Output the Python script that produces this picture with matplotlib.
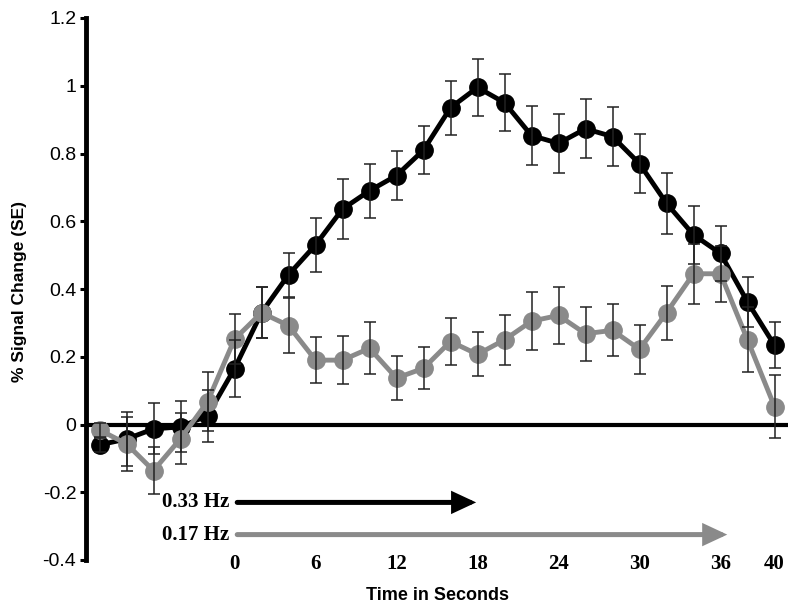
import numpy as np
import matplotlib
matplotlib.use("Agg")
import matplotlib.pyplot as plt

# ---- data ----
time_s = np.arange(-10, 41, 2)
hz033 = [-0.06, -0.043, -0.013, -0.007, 0.026, 0.165, 0.33, 0.442, 0.53, 0.636,
         0.69, 0.735, 0.81, 0.935, 0.995, 0.95, 0.853, 0.83, 0.873, 0.85,
         0.77, 0.653, 0.56, 0.505, 0.362, 0.234]
hz033_se = [0.02, 0.08, 0.075, 0.075, 0.077, 0.085, 0.075, 0.065, 0.08, 0.088,
            0.08, 0.072, 0.07, 0.08, 0.085, 0.085, 0.087, 0.087, 0.087, 0.087,
            0.087, 0.09, 0.085, 0.08, 0.073, 0.068]
hz017 = [-0.016, -0.057, -0.136, -0.042, 0.067, 0.252, 0.33, 0.292, 0.19, 0.19,
         0.225, 0.137, 0.166, 0.245, 0.207, 0.25, 0.305, 0.322, 0.268, 0.278,
         0.222, 0.33, 0.445, 0.445, 0.25, 0.053]
hz017_se = [0.02, 0.08, 0.07, 0.075, 0.087, 0.074, 0.075, 0.08, 0.068, 0.07,
            0.077, 0.064, 0.062, 0.068, 0.065, 0.073, 0.085, 0.085, 0.08, 0.077,
            0.073, 0.08, 0.088, 0.083, 0.096, 0.093]
xtick_vals = [0, 6, 12, 18, 24, 30, 36, 40]
ytick_vals = [-0.4, -0.2, 0, 0.2, 0.4, 0.6, 0.8, 1, 1.2]
ytick_labels = ["-0.4", "-0.2", "0", "0.2", "0.4", "0.6", "0.8", "1", "1.2"]
stim_labels = ["0.33 Hz", "0.17 Hz"]
stim_ends = [17.9, 36.5]
stim_levels = [-0.23, -0.325]

BLACK = "#000000"
GRAY = "#8a8a8a"

fig = plt.figure(figsize=(8, 6.13), dpi=100)
ax = fig.add_axes([86 / 800, 1 - 560 / 613, (788 - 86) / 800, (560 - 18) / 613])

ax.set_xlim(-11, 41)
ax.set_ylim(-0.4, 1.2)

# zero line
ax.axhline(0, color="black", lw=3, zorder=1)

ax.plot(time_s, hz033, color=BLACK, lw=3.5, marker="o", ms=12.5, zorder=2)
ax.plot(time_s, hz017, color=GRAY, lw=3.5, marker="o", ms=12.5, zorder=3)
ax.errorbar(time_s, hz033, yerr=hz033_se, fmt="none", ecolor="#222222",
            elinewidth=1.1, capsize=4.5, capthick=1.1, zorder=5)
ax.errorbar(time_s, hz017, yerr=hz017_se, fmt="none", ecolor="#222222",
            elinewidth=1.1, capsize=4.5, capthick=1.1, zorder=5)

# stimulus arrows
for lab, end, lev, col in zip(stim_labels, stim_ends, stim_levels, [BLACK, GRAY]):
    ax.annotate("", xy=(end, lev), xytext=(0.2, lev),
                arrowprops=dict(arrowstyle="-|>,head_length=0.6,head_width=0.28",
                                lw=3.6, color=col, shrinkA=0, shrinkB=0,
                                mutation_scale=20, joinstyle="miter"),
                annotation_clip=False, zorder=4)
    ax.text(-0.4, lev, lab, ha="right", va="center", fontsize=15,
            fontweight="bold", family="Liberation Serif", color="black")

# spines
for s in ["top", "right", "bottom"]:
    ax.spines[s].set_visible(False)
ax.spines["left"].set_linewidth(3.5)

ax.set_yticks(ytick_vals)
ax.set_yticklabels(ytick_labels, fontsize=14, family="Liberation Sans")
ax.tick_params(axis="y", direction="out", length=4, width=2.2, pad=3)

ax.set_xticks(xtick_vals)
ax.set_xticklabels([str(v) for v in xtick_vals], fontsize=15,
                   fontweight="bold", family="Liberation Serif")
ax.tick_params(axis="x", length=0, pad=-4)

fig.text(20 / 800, 1 - 291 / 613, "% Signal Change (SE)", rotation=90,
         ha="center", va="center", fontsize=12.5, fontweight="bold",
         family="Liberation Sans")
fig.text(437 / 800, 1 - 595 / 613, "Time in Seconds", ha="center", va="center",
         fontsize=13, fontweight="bold", family="Liberation Sans")

fig.savefig("out.png", dpi=100)
